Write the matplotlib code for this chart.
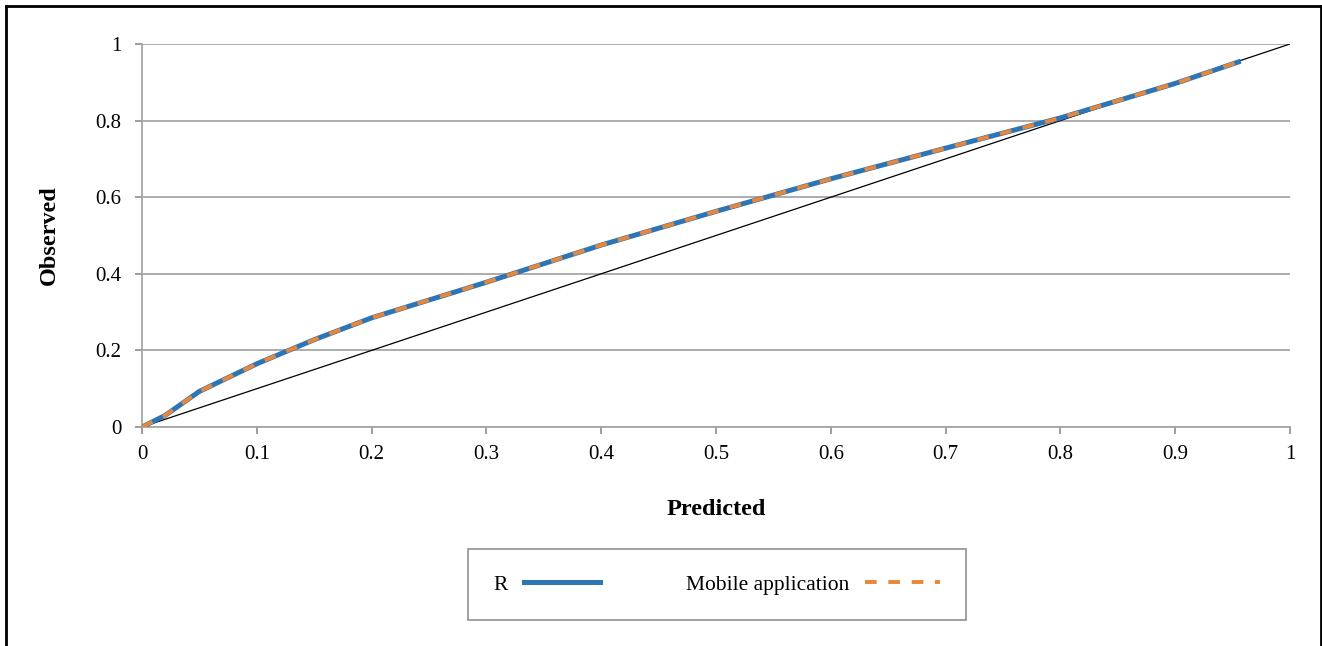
import matplotlib.pyplot as plt
from matplotlib.lines import Line2D

plt.rcParams['font.family'] = ['Liberation Serif', 'DejaVu Serif']

# calibration curve: predicted vs observed
predicted = [0, 0.02, 0.05, 0.1, 0.15, 0.2, 0.3, 0.4, 0.5, 0.6, 0.7, 0.8, 0.9, 0.955]
observed_r = [0, 0.03, 0.093, 0.165, 0.228, 0.285, 0.378, 0.475, 0.563, 0.648, 0.728, 0.807, 0.897, 0.953]
observed_app = observed_r  # mobile app gives the same values
ideal = [0, 1]
ticks_x = [0, 0.1, 0.2, 0.3, 0.4, 0.5, 0.6, 0.7, 0.8, 0.9, 1]
ticks_y = [0, 0.2, 0.4, 0.6, 0.8, 1]

fig = plt.figure(figsize=(13.22, 6.46), dpi=100)
ax = fig.add_axes([142/1322, 1 - 427/646, 1148/1322, 383/646])

ax.plot(ideal, ideal, color='black', lw=0.9, zorder=2)
ax.plot(predicted, observed_r, color='#2E75B6', lw=3.6, zorder=3, label='R')
ax.plot(predicted, observed_app, color='#E8873A', lw=2.8, ls=(0, (3, 3)), zorder=4,
        label='Mobile application')

ax.set_xlim(0, 1)
ax.set_ylim(0, 1)
ax.set_xticks(ticks_x)
ax.set_yticks(ticks_y)
ax.set_xticklabels([f'{t:g}' for t in ticks_x])
ax.set_yticklabels([f'{t:g}' for t in ticks_y])
ax.tick_params(axis='both', labelsize=15, colors='#8C8C8C', labelcolor='black',
               length=5, width=1.2)
ax.tick_params(axis='x', pad=8)
ax.tick_params(axis='y', pad=10)
ax.yaxis.grid(True, color='#A6A6A6', lw=1.3)
ax.set_axisbelow(True)
for s in ['top', 'right']:
    ax.spines[s].set_visible(False)
for s in ['left', 'bottom']:
    ax.spines[s].set_color('#A6A6A6')
    ax.spines[s].set_linewidth(1.3)

ax.set_xlabel('Predicted', fontsize=17.5, fontweight='bold', labelpad=25)
ax.set_ylabel('Observed', fontsize=17.5, fontweight='bold', labelpad=25)

handles, labels = ax.get_legend_handles_labels()
leg = fig.legend(handles, labels, loc='center', ncol=2, markerfirst=False, fontsize=15.5,
                 frameon=True, fancybox=False, edgecolor='#7F7F7F', handlelength=3.5,
                 columnspacing=4.0, borderpad=1.2, handletextpad=0.75, borderaxespad=0)
leg.get_frame().set_linewidth(1.3)
leg.set_bbox_to_anchor((717/1322, 1 - 584.5/646), transform=fig.transFigure)

# outer border: left, top and right edges only
fig.add_artist(Line2D([6/1322, 6/1322], [0, 1 - 6/646], color='black', lw=2))
fig.add_artist(Line2D([6/1322, 1321/1322], [1 - 6/646, 1 - 6/646], color='black', lw=2))
fig.add_artist(Line2D([1321/1322, 1321/1322], [0, 1 - 6/646], color='black', lw=2))

fig.savefig('out.png', dpi=100)
